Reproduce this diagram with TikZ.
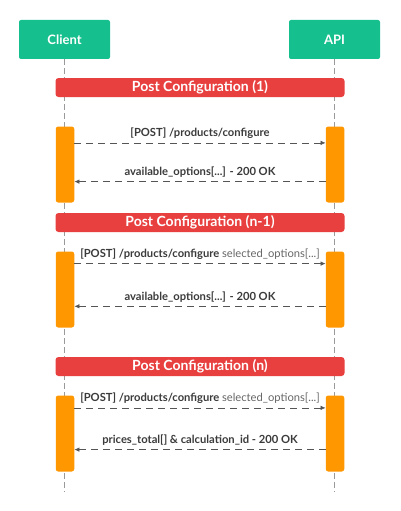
\documentclass[tikz,border=0pt]{standalone}
\usepackage{fontspec}
\setmainfont{Lato}
\usetikzlibrary{arrows.meta}
\definecolor{actorgreen}{HTML}{16C08E}
\definecolor{barred}{HTML}{E8403F}
\definecolor{actorange}{HTML}{FF9700}
\definecolor{msggray}{HTML}{555555}
\definecolor{lifegray}{HTML}{9A9A9A}
\tikzstyle{actor}=[fill=actorgreen, rounded corners=2pt, minimum width=91pt, minimum height=39pt, text=white, font=\fontsize{13}{15}\selectfont\bfseries]
\tikzstyle{phase}=[fill=barred, rounded corners=3pt, minimum width=289pt, minimum height=19pt, inner sep=0pt, text=white, font=\fontsize{14}{16}\selectfont\bfseries]
\tikzstyle{activation}=[fill=actorange, rounded corners=2.5pt, minimum width=18.5pt, minimum height=76pt, inner sep=0pt]
\tikzstyle{lifeline}=[lifegray, line width=0.7pt, dash pattern=on 6pt off 3pt]
\tikzstyle{msg}=[msggray, line width=0.6pt, dash pattern=on 7pt off 5pt, -{Latex[length=5pt,width=4.5pt]}]
\tikzstyle{msglabel}=[above, inner sep=0pt, yshift=4pt, text=msggray!70!black, font=\fontsize{11.2}{13}\selectfont\bfseries]
\newcommand{\extra}[1]{{\mdseries\color{msggray!90}#1}}

\begin{document}
\begin{tikzpicture}[x=1pt, y=-1pt]
	\useasboundingbox (0,0) rectangle (400,511);

	% actors and lifelines
	\node[actor] (client) at (64.5,39.5) {Client};
	\node[actor] (api) at (334.5,39.5) {API};
	\coordinate (clientend) at (64.5,492);
	\coordinate (apiend) at (334.5,492);
	\draw[lifeline] (client.south) -- (clientend);
	\draw[lifeline] (api.south) -- (apiend);

	% phases
	\node[phase] (phaseone) at (200,87.5) {Post Configuration (1)};
	\node[phase] (phasetwo) at (200,222.5) {Post Configuration (n-1)};
	\node[phase] (phasethree) at (200,366.5) {Post Configuration (n)};

	% activations
	\node[activation] (cone) at (65,164.5) {};
	\node[activation] (aone) at (335,164.5) {};
	\node[activation] (ctwo) at (65,289.5) {};
	\node[activation] (atwo) at (335,289.5) {};
	\node[activation] (cthree) at (65,433.5) {};
	\node[activation] (athree) at (335,433.5) {};

	% messages
	\draw[msg] ([yshift=-16.6pt]cone.north east) -- ([yshift=-16.6pt]aone.north west)
		node[midway, msglabel] {[POST] /products/configure};
	\draw[msg] ([yshift=-55.3pt]aone.north west) -- ([yshift=-55.3pt]cone.north east)
		node[midway, msglabel] {available\_options[...] - 200 OK};

	\draw[msg] ([yshift=-12.3pt]ctwo.north east) -- ([yshift=-12.3pt]atwo.north west)
		node[midway, msglabel] {[POST] /products/configure \extra{selected\_options[...]}};
	\draw[msg] ([yshift=-55pt]atwo.north west) -- ([yshift=-55pt]ctwo.north east)
		node[midway, msglabel] {available\_options[...] - 200 OK};

	\draw[msg] ([yshift=-12.6pt]cthree.north east) -- ([yshift=-12.6pt]athree.north west)
		node[midway, msglabel] {[POST] /products/configure \extra{selected\_options[...]}};
	\draw[msg] ([yshift=-54.3pt]athree.north west) -- ([yshift=-54.3pt]cthree.north east)
		node[midway, msglabel] {prices\_total[] \& calculation\_id - 200 OK};
\end{tikzpicture}
\end{document}
